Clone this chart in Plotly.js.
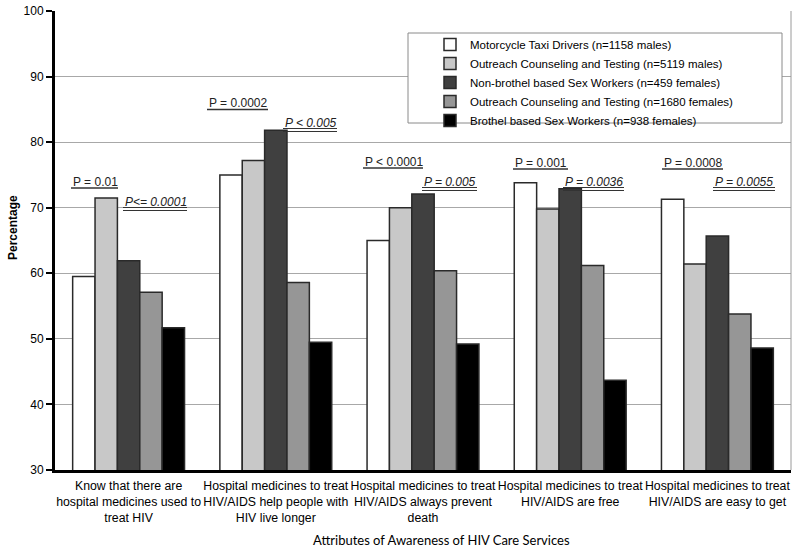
<!DOCTYPE html>
<html><head><meta charset="utf-8">
<script src="https://cdn.plot.ly/plotly-3.0.1.min.js"></script>
<style>html,body{margin:0;padding:0;background:#fff}#chart{width:800px;height:551px}</style>
</head><body><div id="chart"></div>
<script>
const categories = [
  "Know that there are<br>hospital medicines used to<br>treat HIV",
  "Hospital medicines to treat<br>HIV/AIDS help people with<br>HIV live longer",
  "Hospital medicines to treat<br>HIV/AIDS always prevent<br>death",
  "Hospital medicines to treat<br>HIV/AIDS are free",
  "Hospital medicines to treat<br>HIV/AIDS are easy to get"
];
const seriesNames = [
  "Motorcycle Taxi Drivers (n=1158 males)",
  "Outreach Counseling and Testing (n=5119 males)",
  "Non-brothel based Sex Workers (n=459 females)",
  "Outreach Counseling and Testing (n=1680 females)",
  "Brothel based Sex Workers (n=938 females)"
];
const motoTaxi      = [59.5, 75.0, 65.0, 73.8, 71.3];
const octMales      = [71.5, 77.2, 70.0, 69.8, 61.4];
const nonBrothelSW  = [61.9, 81.8, 72.1, 72.9, 65.7];
const octFemales    = [57.1, 58.6, 60.4, 61.2, 53.8];
const brothelSW     = [51.7, 49.5, 49.2, 43.7, 48.6];
const maleP   = ["P = 0.01", "P = 0.0002", "P < 0.0001", "P = 0.001", "P = 0.0008"];
const femaleP = ["P<= 0.0001", "P < 0.005", "P = 0.005", "P = 0.0036", "P = 0.0055"];

// ---- layout (pixel geometry) ----
const L = 55, R = 791, T = 11, B = 470;
const px = v => (v - L) / (R - L);
const py = v => (B - v) / (B - T);
const colors = ["#ffffff", "#c8c8c8", "#404040", "#969696", "#000000"];
const values = [motoTaxi, octMales, nonBrothelSW, octFemales, brothelSW];

const traces = values.map((v, i) => ({
  type: "bar", name: seriesNames[i], x: categories, y: v,
  marker: {color: colors[i], line: {color: "#2a2a2a", width: 1.5}},
  hoverinfo: "y"
}));

// annotation geometry: [left, right, textY]
const maleGeom   = [[71,118,181.5],[207,268,103],[363,423,161.5],[513,568,162.5],[662,723,162.5]];
const femaleGeom = [[123,187,202],[283,337,123],[422,477,182],[563,624,182],[713,775,182]];

const annotations = [];
const shapes = [];
maleGeom.forEach((g, i) => {
  annotations.push({xref:"paper", yref:"paper", x:px(g[0]), y:py(g[2]), xanchor:"left", yanchor:"middle",
    text: maleP[i], showarrow:false, font:{family:"Liberation Sans, Arial, sans-serif", size:12, color:"#222"}});
  shapes.push({type:"line", xref:"paper", yref:"paper", x0:px(g[0]), x1:px(g[1]), y0:py(g[2]+6.5), y1:py(g[2]+6.5),
    line:{color:"#333", width:1.5}});
});
femaleGeom.forEach((g, i) => {
  annotations.push({xref:"paper", yref:"paper", x:px(g[0]), y:py(g[2]), xanchor:"left", yanchor:"middle",
    text: "<i>" + femaleP[i] + "</i>", showarrow:false, font:{family:"Liberation Sans, Arial, sans-serif", size:12, color:"#222"}});
  [5.5, 8.5].forEach(d => shapes.push({type:"line", xref:"paper", yref:"paper", x0:px(g[0]), x1:px(g[1]),
    y0:py(g[2]+d), y1:py(g[2]+d), line:{color:"#333", width:1.2}}));
});
// right border of plot area
shapes.push({type:"line", xref:"paper", yref:"paper", x0:1, x1:1, y0:0, y1:1, line:{color:"#9a9a9a", width:1}});
// legend box
shapes.push({type:"rect", xref:"paper", yref:"paper", x0:px(408), x1:px(782), y0:py(33), y1:py(123),
  fillcolor:"#ffffff", line:{color:"#8a8a8a", width:1}, layer:"above"});

annotations.push({xref:"paper", yref:"paper", x:px(13), y:py(228), xanchor:"center", yanchor:"middle",
  textangle:-90, text:"<b>Percentage</b>", showarrow:false, font:{family:"Liberation Sans, Arial, sans-serif", size:12, color:"#000"}});
annotations.push({xref:"paper", yref:"paper", x:px(441), y:py(540), xanchor:"center", yanchor:"middle",
  text:"Attributes of Awareness of HIV Care Services", showarrow:false, font:{family:"Lato, Carlito, sans-serif", size:13, color:"#000"}});

const layout = {
  width: 800, height: 551,
  margin: {l: L, r: 800 - R, t: T, b: 551 - B},
  paper_bgcolor: "#fff", plot_bgcolor: "#fff",
  barmode: "group", bargap: 0.24, bargroupgap: 0,
  showlegend: true,
  legend: {x: px(430), y: py(30), xanchor: "left", yanchor: "top", bgcolor: "rgba(0,0,0,0)",
    borderwidth: 0, font: {family: "Liberation Sans, Arial, sans-serif", size: 11.5, color: "#000"},
    itemwidth: 30, tracegroupgap: 0},
  xaxis: {type: "category", showline: true, linecolor: "#000", linewidth: 3, ticks: "", tickangle: 0,
    ticklabelstandoff: 2,
    tickfont: {family: "Liberation Sans Narrow, Arial Narrow, Liberation Sans, Arial, sans-serif", size: 12.3, color: "#000"},
    showgrid: false, fixedrange: true},
  yaxis: {range: [30, 100], dtick: 10, showline: true, linecolor: "#000", linewidth: 3,
    ticks: "outside", ticklen: 6, tickwidth: 2, tickcolor: "#000",
    tickfont: {family: "Liberation Sans, Arial, sans-serif", size: 12, color: "#000"},
    showgrid: true, gridcolor: "#a8a8a8", gridwidth: 1, zeroline: false, fixedrange: true},
  annotations: annotations,
  shapes: shapes
};
Plotly.newPlot("chart", traces, layout, {displayModeBar: false, staticPlot: true});
</script></body></html>
